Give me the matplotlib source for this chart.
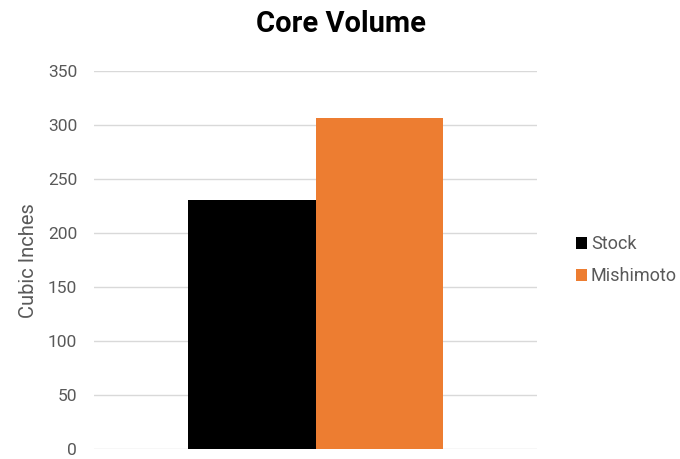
import matplotlib
matplotlib.use("Agg")
import matplotlib.pyplot as plt

series = ["Stock", "Mishimoto"]
values = [231, 307]
colors = ["#000000", "#ED7D31"]
yticks = [0, 50, 100, 150, 200, 250, 300, 350]

plt.rcParams['font.family'] = ['Roboto', 'DejaVu Sans']

fig = plt.figure(figsize=(6.8, 4.59), dpi=100)
ax = fig.add_axes([0.138, 0.0215, 0.652, 0.8235])

w = 0.573
for i, (name, v, c) in enumerate(zip(series, values, colors)):
    ax.bar((i - 0.5) * w, v, width=w, color=c, label=name, zorder=3)

ax.set_xlim(-1, 1)
ax.set_ylim(0, 350)
ax.set_yticks(yticks)
ax.set_xticks([])
ax.grid(axis='y', color='#d9d9d9', linewidth=1, zorder=0)
for s in ax.spines.values():
    s.set_visible(False)
ax.tick_params(axis='y', length=0, labelsize=12.5, labelcolor='#595959', pad=12)
ax.set_ylabel("Cubic Inches", fontsize=14.5, color='#595959')
ax.yaxis.set_label_coords(-0.125, 0.5)

fig.text(0.502, 0.931, "Core Volume", ha='center', va='baseline',
         fontsize=21, fontweight='bold', color='black')

leg = ax.legend(loc='center left', bbox_to_anchor=(1.05, 0.5), frameon=False,
                fontsize=13, handlelength=0.65, handleheight=0.65, handletextpad=0.2,
                labelspacing=0.75)
for t in leg.get_texts():
    t.set_color('#595959')

fig.savefig("out.png", dpi=100)
